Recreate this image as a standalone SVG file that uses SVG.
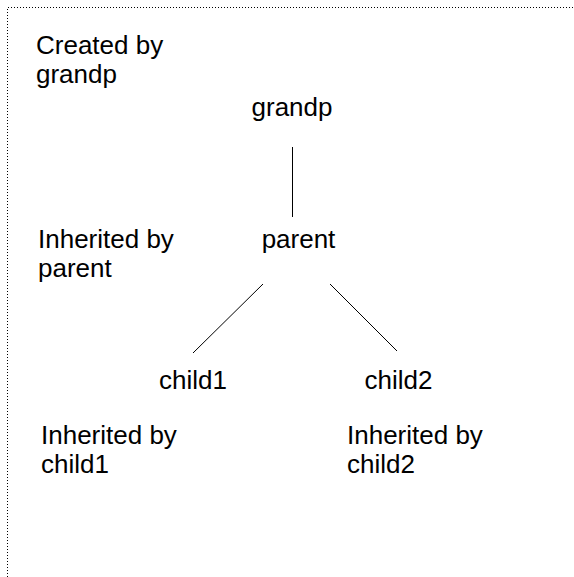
<svg xmlns="http://www.w3.org/2000/svg" width="574" height="577" viewBox="0 0 574 577">
  <style>
    .t { font-family: "Liberation Sans", Arial, sans-serif; font-size: 26px; fill: #000; }
    .edge { stroke: #000; stroke-width: 1; fill: none; }
    .frame { stroke: #000; stroke-width: 1; stroke-dasharray: 1 2; fill: none; }
  </style>
  <rect width="574" height="577" fill="#fff"/>
  <!-- dotted frame, open at right and bottom -->
  <path class="frame" d="M7.5 577 V7.5 H574"/>

  <g id="connectors">
    <line class="edge" x1="292.5" y1="147" x2="292.5" y2="217"/>
    <line class="edge" x1="263" y1="284" x2="193" y2="353"/>
    <line class="edge" x1="330" y1="284" x2="397" y2="351"/>
  </g>

  <g id="grandp"><text class="t" x="292" y="116" text-anchor="middle">grandp</text></g>
  <g id="parent"><text class="t" x="298.5" y="248" text-anchor="middle">parent</text></g>
  <g id="child1"><text class="t" x="193" y="389" text-anchor="middle">child1</text></g>
  <g id="child2"><text class="t" x="398.5" y="389" text-anchor="middle">child2</text></g>

  <g id="note-grandp"><text class="t" x="36" y="54">Created by<tspan x="36" dy="29">grandp</tspan></text></g>
  <g id="note-parent"><text class="t" x="38" y="248">Inherited by<tspan x="38" dy="29">parent</tspan></text></g>
  <g id="note-child1"><text class="t" x="41" y="444">Inherited by<tspan x="41" dy="29">child1</tspan></text></g>
  <g id="note-child2"><text class="t" x="347" y="444">Inherited by<tspan x="347" dy="29">child2</tspan></text></g>
</svg>
